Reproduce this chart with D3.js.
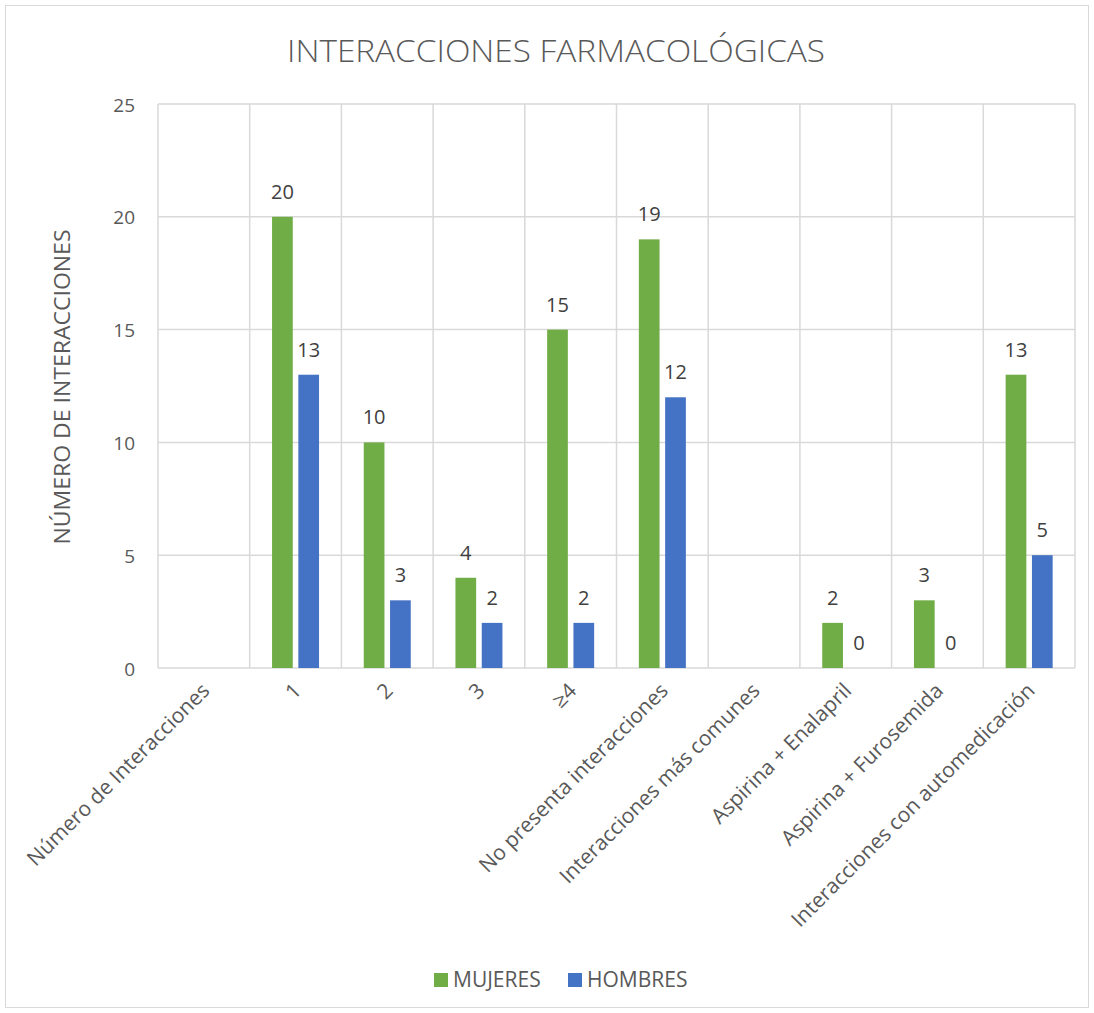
<!DOCTYPE html>
<html>
<head>
<meta charset="utf-8">
<script src="https://cdn.jsdelivr.net/npm/d3@7"></script>
<style>
  html, body { margin: 0; padding: 0; background: #fff; }
  svg { display: block; font-family: "Open Sans", "Noto Sans", sans-serif; }
</style>
</head>
<body>
<svg id="chart" width="1094" height="1013"></svg>
<script>
// Categories along the x axis
const categories = [
  "Número de Interacciones", "1", "2", "3", "≥4",
  "No presenta interacciones", "Interacciones más comunes",
  "Aspirina + Enalapril", "Aspirina + Furosemida",
  "Interacciones con automedicación"
];
// Series values (null = no bar / no label)
const mujeres = [null, 20, 10, 4, 15, 19, null, 2, 3, 13];
const hombres = [null, 13, 3, 2, 2, 12, null, 0, 0, 5];
const seriesNames = ["MUJERES", "HOMBRES"];
const seriesColors = ["#70AD47", "#4472C4"];
const yTicks = [0, 5, 10, 15, 20, 25];

const svg = d3.select("#chart");
const margin = { left: 158, right: 1075, top: 104, bottom: 668 };

// Outer chart frame
svg.append("rect")
  .attr("x", 5.5).attr("y", 5.5)
  .attr("width", 1083).attr("height", 1002)
  .attr("fill", "#fff").attr("stroke", "#D9D9D9").attr("stroke-width", 1);

// Title
svg.append("text")
  .attr("x", 556).attr("y", 62)
  .attr("text-anchor", "middle")
  .attr("font-size", 32)
  .attr("font-weight", 300)
  .attr("fill", "#595959")
  .attr("textLength", 538)
  .attr("lengthAdjust", "spacingAndGlyphs")
  .text("INTERACCIONES FARMACOLÓGICAS");

const x = d3.scaleBand().domain(categories).range([margin.left, margin.right]).paddingInner(0).paddingOuter(0);
const y = d3.scaleLinear().domain([0, 25]).range([margin.bottom, margin.top]);
const barW = 21, barGap = 5;
const xs = d3.scaleBand().domain(seriesNames)
  .range([-(barW + barGap / 2), barW + barGap / 2]).paddingInner(barGap / (barW * 2 + barGap) * 2).paddingOuter(0);

const grid = svg.append("g");
// Horizontal gridlines
grid.selectAll("line.h").data(yTicks).join("line")
  .attr("x1", margin.left).attr("x2", margin.right)
  .attr("y1", d => y(d)).attr("y2", d => y(d))
  .attr("stroke", "#D9D9D9").attr("stroke-width", 1.5);
// Vertical gridlines at category boundaries
const bounds = categories.map(c => x(c)).concat([margin.right]);
grid.selectAll("line.v").data(bounds).join("line")
  .attr("x1", d => d).attr("x2", d => d)
  .attr("y1", margin.top).attr("y2", margin.bottom)
  .attr("stroke", "#D9D9D9").attr("stroke-width", 1.5);

// Y axis tick labels
const yAxis = d3.axisLeft(y).tickValues(yTicks).tickSize(0).tickPadding(0);
const yg = svg.append("g").attr("transform", `translate(135,0)`).call(yAxis);
yg.select(".domain").remove();
yg.selectAll("text").attr("font-size", 19).attr("fill", "#595959")
  .attr("font-family", "Open Sans, sans-serif").attr("dy", 7);

// Y axis title
svg.append("text")
  .attr("transform", `translate(70,${(margin.top + margin.bottom) / 2 + 1}) rotate(-90)`)
  .attr("text-anchor", "middle")
  .attr("font-size", 21)
  .attr("fill", "#595959")
  .attr("textLength", 315)
  .attr("lengthAdjust", "spacingAndGlyphs")
  .text("NÚMERO DE INTERACCIONES");

// X axis labels rotated -45deg
const xAxis = d3.axisBottom(x).tickSize(0).tickPadding(0);
const xg = svg.append("g").attr("transform", `translate(0,${margin.bottom})`).call(xAxis);
xg.select(".domain").remove();
xg.selectAll("text")
  .attr("font-size", 21).attr("fill", "#595959")
  .attr("font-family", "Open Sans, sans-serif")
  .attr("text-anchor", "end")
  .attr("dy", null).attr("y", 0)
  .attr("transform", "translate(7,24) rotate(-45)");

// Bars + data labels
const series = [mujeres, hombres];
series.forEach((vals, si) => {
  const data = categories.map((c, i) => ({ c, v: vals[i] })).filter(d => d.v !== null);
  const g = svg.append("g");
  g.selectAll("rect").data(data).join("rect")
    .attr("x", d => x(d.c) + x.bandwidth() / 2 + xs(seriesNames[si]))
    .attr("width", xs.bandwidth())
    .attr("y", d => y(d.v))
    .attr("height", d => y(0) - y(d.v))
    .attr("fill", seriesColors[si]);
  g.selectAll("text").data(data).join("text")
    .attr("x", d => x(d.c) + x.bandwidth() / 2 + xs(seriesNames[si]) + xs.bandwidth() / 2)
    .attr("y", d => y(d.v) - 18)
    .attr("text-anchor", "middle")
    .attr("font-size", 20)
    .attr("fill", "#404040")
    .text(d => d.v);
});

// Legend
const legend = svg.append("g");
const legendItems = [{ name: seriesNames[0], color: seriesColors[0], x: 434 }, { name: seriesNames[1], color: seriesColors[1], x: 568 }];
legendItems.forEach(it => {
  legend.append("rect").attr("x", it.x).attr("y", 973).attr("width", 14).attr("height", 14).attr("fill", it.color);
  legend.append("text").attr("x", it.x + 19).attr("y", 987)
    .attr("font-size", 21).attr("fill", "#595959").text(it.name);
});
</script>
</body>
</html>
